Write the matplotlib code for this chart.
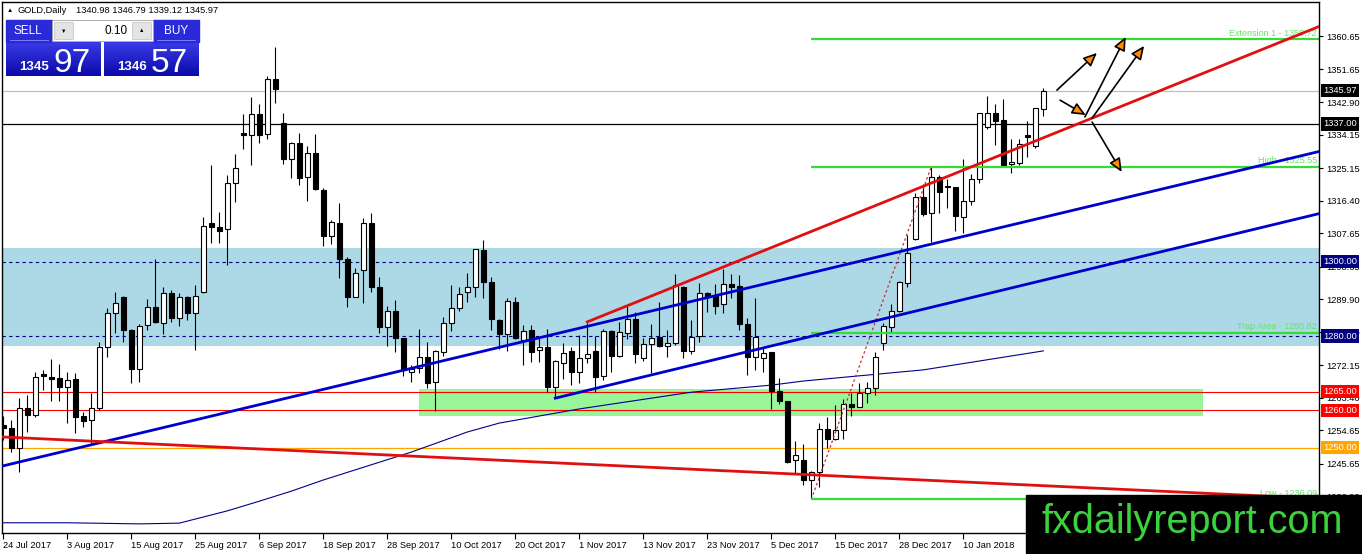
import numpy as np
import matplotlib
matplotlib.use('Agg')
import matplotlib.pyplot as plt
from matplotlib.patches import Rectangle
from matplotlib.colors import LinearSegmentedColormap
import matplotlib.transforms as mtransforms

plt.rcParams['font.family'] = ['Liberation Sans', 'DejaVu Sans']

# ---------------- data ----------------
opens = [1256.0, 1255.2, 1249.8, 1260.6, 1258.8, 1269.7, 1269.1, 1268.6, 1266.4, 1268.4,
         1258.5, 1257.4, 1260.6, 1277.1, 1286.1, 1290.4, 1281.6, 1271.1, 1282.9, 1287.7,
         1283.4, 1291.5, 1284.8, 1290.6, 1286.1, 1291.9, 1310.5, 1309.2, 1308.7, 1321.2,
         1334.5, 1334.0, 1339.7, 1334.3, 1349.0, 1337.2, 1327.5, 1331.8, 1322.7, 1329.1,
         1319.3, 1306.9, 1310.5, 1300.6, 1290.6, 1297.7, 1310.3, 1293.3, 1282.3, 1286.6,
         1279.4, 1270.4, 1271.3, 1274.3, 1267.7, 1275.8, 1283.4, 1287.4, 1291.7, 1293.1,
         1303.1, 1294.6, 1284.3, 1280.5, 1289.2, 1278.9, 1281.6, 1276.2, 1277.0, 1266.4,
         1272.7, 1276.0, 1270.4, 1274.0, 1276.0, 1269.2, 1281.3, 1274.6, 1280.9, 1284.5,
         1274.0, 1277.9, 1279.8, 1277.4, 1278.0, 1293.3, 1276.1, 1280.0, 1291.6, 1290.8,
         1288.6, 1294.0, 1293.4, 1283.2, 1274.3, 1274.0, 1275.6, 1265.1, 1262.5, 1246.7,
         1246.7, 1241.3, 1243.5, 1254.9, 1252.2, 1254.7, 1261.7, 1261.0, 1264.8, 1265.9,
         1278.0, 1282.5, 1286.8, 1294.3, 1306.0, 1317.3, 1313.0, 1322.7, 1320.3, 1320.0,
         1312.1, 1316.4, 1322.2, 1336.1, 1339.9, 1338.2, 1326.2, 1326.6, 1334.0, 1331.1,
         1340.98]
highs = [1258.5, 1257.4, 1263.3, 1264.1, 1270.4, 1270.9, 1273.7, 1272.5, 1270.4, 1270.0,
         1259.7, 1264.6, 1278.5, 1287.4, 1291.9, 1290.8, 1281.8, 1283.2, 1289.9, 1300.6,
         1293.3, 1292.4, 1291.5, 1290.8, 1293.7, 1312.1, 1326.0, 1313.4, 1323.3, 1328.9,
         1339.7, 1344.3, 1342.5, 1349.9, 1357.8, 1339.9, 1332.1, 1334.7, 1331.1, 1334.3,
         1319.7, 1311.2, 1315.7, 1301.3, 1298.2, 1311.6, 1313.2, 1295.8, 1288.1, 1289.7,
         1279.6, 1272.2, 1281.8, 1278.5, 1276.2, 1285.2, 1293.7, 1293.3, 1297.0, 1303.4,
         1305.8, 1295.8, 1284.5, 1290.1, 1290.6, 1282.9, 1282.9, 1279.4, 1282.0, 1273.5,
         1278.2, 1277.1, 1280.3, 1283.6, 1280.0, 1282.0, 1281.6, 1283.9, 1288.1, 1286.5,
         1279.4, 1283.2, 1289.2, 1281.6, 1296.7, 1293.4, 1284.3, 1294.2, 1291.9, 1294.0,
         1297.9, 1296.7, 1296.4, 1284.8, 1290.1, 1276.7, 1275.8, 1268.6, 1262.6, 1251.9,
         1251.0, 1243.6, 1256.7, 1258.3, 1261.5, 1263.2, 1264.8, 1267.5, 1267.7, 1275.8,
         1283.4, 1288.6, 1294.7, 1307.2, 1318.5, 1321.0, 1325.55, 1323.3, 1322.1, 1320.1,
         1327.5, 1323.6, 1340.0, 1344.5, 1342.3, 1343.6, 1332.9, 1332.9, 1337.9, 1341.3,
         1346.79]
lows = [1252.0, 1248.9, 1243.5, 1254.3, 1258.3, 1265.5, 1262.4, 1262.4, 1256.5, 1253.8,
        1255.5, 1251.2, 1260.1, 1274.4, 1280.7, 1278.5, 1267.3, 1267.7, 1281.6, 1283.4,
        1280.5, 1283.9, 1282.7, 1284.3, 1276.2, 1291.5, 1304.9, 1304.9, 1299.1, 1316.1,
        1330.4, 1326.0, 1332.0, 1332.9, 1342.7, 1326.2, 1322.4, 1320.6, 1316.4, 1319.3,
        1304.2, 1304.7, 1295.5, 1287.9, 1290.4, 1289.0, 1291.7, 1280.9, 1277.3, 1275.8,
        1269.3, 1267.7, 1270.0, 1265.9, 1259.9, 1274.6, 1281.4, 1286.6, 1289.2, 1290.6,
        1290.1, 1281.6, 1276.4, 1276.0, 1279.1, 1272.2, 1273.1, 1273.1, 1265.0, 1263.7,
        1268.4, 1266.8, 1267.4, 1272.8, 1265.0, 1268.1, 1270.4, 1274.4, 1279.1, 1272.7,
        1273.4, 1270.0, 1277.0, 1274.4, 1277.6, 1274.0, 1275.3, 1278.5, 1286.5, 1285.9,
        1286.3, 1290.1, 1281.6, 1269.5, 1271.0, 1270.4, 1260.3, 1261.7, 1245.8, 1243.3,
        1240.0, 1236.09, 1239.5, 1249.8, 1252.1, 1252.2, 1258.5, 1260.9, 1262.1, 1264.1,
        1276.2, 1281.2, 1286.5, 1293.3, 1305.8, 1312.3, 1305.4, 1313.1, 1314.3, 1308.3,
        1307.8, 1315.2, 1321.2, 1335.6, 1331.3, 1326.0, 1323.9, 1326.0, 1328.0, 1330.5,
        1339.12]
closes = [1255.2, 1249.8, 1260.6, 1258.8, 1269.1, 1269.2, 1268.4, 1266.4, 1268.2, 1258.3,
          1257.2, 1260.6, 1277.1, 1286.1, 1288.8, 1281.6, 1271.1, 1282.7, 1287.7, 1283.9,
          1291.5, 1284.8, 1290.4, 1286.1, 1290.8, 1309.6, 1309.4, 1308.3, 1321.2, 1325.1,
          1334.0, 1339.7, 1334.0, 1349.0, 1346.3, 1327.5, 1331.8, 1322.4, 1329.1, 1319.4,
          1306.9, 1310.7, 1300.6, 1290.6, 1296.9, 1310.3, 1293.3, 1282.3, 1286.8, 1279.6,
          1270.9, 1271.1, 1274.3, 1267.5, 1276.1, 1283.4, 1287.4, 1291.3, 1293.1, 1303.3,
          1294.6, 1284.5, 1280.5, 1289.5, 1279.6, 1281.4, 1275.8, 1277.0, 1266.4, 1273.4,
          1275.5, 1270.4, 1274.0, 1275.3, 1269.1, 1281.3, 1274.6, 1281.2, 1284.5, 1275.3,
          1277.9, 1279.6, 1277.3, 1278.0, 1293.7, 1276.1, 1279.8, 1291.6, 1290.6, 1288.1,
          1293.9, 1293.3, 1283.1, 1274.3, 1279.8, 1275.5, 1265.3, 1262.6, 1246.2, 1247.9,
          1241.3, 1243.5, 1254.9, 1252.2, 1254.7, 1261.7, 1261.0, 1264.8, 1265.9, 1274.4,
          1282.7, 1286.7, 1294.6, 1302.4, 1317.3, 1312.8, 1322.7, 1318.8, 1320.0, 1312.3,
          1316.4, 1322.1, 1339.9, 1339.9, 1337.9, 1326.0, 1326.7, 1331.6, 1333.6, 1341.2,
          1345.97]

date_labels = ['24 Jul 2017', '3 Aug 2017', '15 Aug 2017', '25 Aug 2017', '6 Sep 2017',
               '18 Sep 2017', '28 Sep 2017', '10 Oct 2017', '20 Oct 2017', '1 Nov 2017',
               '13 Nov 2017', '23 Nov 2017', '5 Dec 2017', '15 Dec 2017', '28 Dec 2017',
               '10 Jan 2018']
date_bar_index = [0, 8, 16, 24, 32, 40, 48, 56, 64, 72, 80, 88, 96, 104, 112, 120]

price_ticks = [1360.65, 1351.65, 1342.90, 1334.15, 1325.15, 1316.40, 1307.65, 1298.65,
               1289.90, 1281.15, 1272.15, 1263.40, 1254.65, 1245.65, 1236.90]

# moving average
ma_index = [-0.4, 8, 17, 22, 24, 28, 32, 36, 40, 51, 58, 62, 67, 72, 86, 96, 100, 115, 130]
ma_values = [1229.8, 1229.8, 1229.5, 1229.7, 1230.8, 1233.0, 1235.6, 1238.3, 1241.3, 1248.8,
             1254.2, 1256.6, 1258.5, 1260.4, 1264.9, 1266.8, 1267.9, 1270.9, 1276.0]

# horizontal levels
bid_price = 1345.97
level_black = 1337.00
level_zone_dashed = [1300.00, 1280.00]
level_red = [1265.00, 1260.00]
level_orange = 1250.00
blue_zone = (1277.4, 1303.6)
green_zone = (1258.6, 1265.7)
green_zone_span = (52, 150)

# fibonacci-style levels
fib_start = 101
fib_levels = [1359.72, 1325.55, 1280.82, 1236.09]
fib_names = ['Extension 1 - 1359.72', 'High - 1325.55', 'Trap Area - 1280.82', 'Low - 1236.09']
fib_link = ([101, 116], [1236.09, 1325.55])

# trend lines (bar index, price)
blue_line_1 = ([-0.41, 164.46], [1244.9, 1329.6])
blue_line_2 = ([69, 164.46], [1263.3, 1312.9])
red_line_up = ([73, 164.46], [1283.8, 1363.2])
red_line_down = ([-0.41, 164.46], [1252.9, 1236.3])

# arrows (start index, start price, end index, end price)
arrows = [(131.7, 1346.1, 136.7, 1356.1),
          (132.1, 1343.4, 135.3, 1339.4),
          (135.2, 1338.9, 140.3, 1360.4),
          (136.1, 1338.6, 142.6, 1358.0),
          (136.1, 1337.5, 139.8, 1324.1)]

axis_labels = [(1345.97, 'black'), (1337.00, 'black'), (1300.00, '#000080'),
               (1280.00, '#000080'), (1265.00, '#FF0000'), (1260.00, '#FF0000'),
               (1250.00, '#FFA500')]

# ---------------- figure ----------------
W, H = 1362, 554
fig = plt.figure(figsize=(W / 100, H / 100), dpi=100)
fig.patch.set_facecolor('white')

ax = fig.add_axes([2 / W, (H - 533) / H, (1319 - 2) / W, (533 - 2) / H])
ax.set_zorder(1)
ax.set_facecolor('white')
xmin, xmax = -0.1625, 164.46
ymin, ymax = 1227.05, 1369.79

# zones
ax.axhspan(blue_zone[0], blue_zone[1], color='#ADD8E6', lw=0, zorder=0.5)
ax.add_patch(Rectangle((green_zone_span[0], green_zone[0]), green_zone_span[1] - green_zone_span[0],
                       green_zone[1] - green_zone[0], color='#98F598', lw=0, zorder=0.6))

# horizontal lines
ax.axhline(bid_price, color='#C0C0C0', lw=0.9, zorder=1)
ax.axhline(level_black, color='black', lw=0.9, zorder=1)
for lv in level_zone_dashed:
    ax.axhline(lv, color='#000080', lw=0.8, dashes=(3, 3), zorder=1)
for lv in level_red:
    ax.axhline(lv, color='#FF0000', lw=0.8, zorder=1)
ax.axhline(level_orange, color='#FFA500', lw=0.9, zorder=1)

# MA
ax.plot(ma_index, ma_values, color='#00008B', lw=0.8, zorder=1.5)

# candles
idx = np.arange(len(opens))
o = np.array(opens); c = np.array(closes); hi = np.array(highs); lo = np.array(lows)
ax.vlines(idx, lo, hi, color='black', lw=0.8, zorder=2)
up = c >= o
bw = 0.62
ax.bar(idx[up], c[up] - o[up], bottom=o[up], width=bw, color='white', edgecolor='black',
       lw=0.8, zorder=2.1)
ax.bar(idx[~up], o[~up] - c[~up], bottom=c[~up], width=bw, color='black', edgecolor='black',
       lw=0.8, zorder=2.1)

# fib lines
for lv, name in zip(fib_levels, fib_names):
    ax.plot([fib_start, xmax], [lv, lv], color='#33DD33', lw=1.6, zorder=2.5, solid_capstyle='butt')
    ax.text(xmax - 0.25, lv + 0.5, name, color='#66E266', fontsize=6.5, ha='right',
            va='bottom', zorder=2.6)
ax.plot(fib_link[0], fib_link[1], color='#C03030', lw=0.9, ls=(0, (2, 2)), zorder=2.4)

# trend lines
ax.plot(*blue_line_1, color='#0000CC', lw=2.0, zorder=3)
ax.plot(*blue_line_2, color='#0000CC', lw=2.0, zorder=3)
ax.plot(*red_line_up, color='#E01010', lw=2.0, zorder=3)
ax.plot(*red_line_down, color='#E01010', lw=2.0, zorder=3)

# arrows
for (x0, y0, x1, y1) in arrows:
    ax.annotate('', xy=(x1, y1), xytext=(x0, y0),
                arrowprops=dict(arrowstyle='-|>,head_length=0.9,head_width=0.4',
                                fc='#FF8C00', ec='black', lw=1.2,
                                shrinkA=0, shrinkB=0, mutation_scale=9),
                zorder=4)

ax.set_xlim(xmin, xmax)
ax.set_ylim(ymin, ymax)

# axes styling
for s in ax.spines.values():
    s.set_color('black'); s.set_linewidth(1.0)
ax.yaxis.tick_right()
ax.set_yticks(price_ticks)
ax.set_yticklabels(['%.2f' % v for v in price_ticks])
ax.tick_params(axis='y', direction='out', length=3, width=0.8, labelsize=6.7, pad=2,
               colors='black')
ax.set_xticks(date_bar_index)
ax.set_xticklabels(date_labels)
ax.tick_params(axis='x', direction='out', length=4, width=0.8, labelsize=6.7, pad=1.5)
for lbl in ax.get_xticklabels():
    lbl.set_ha('left')

# right axis price boxes
trans = mtransforms.blended_transform_factory(ax.transAxes, ax.transData)
for val, col in axis_labels:
    ax.text((1323 - 2) / 1317, val, '%.2f' % val, transform=trans, fontsize=6.7,
            color='white', ha='left', va='center', clip_on=False, zorder=6,
            bbox=dict(boxstyle='square,pad=0.22', fc=col, ec='none'))

# ---------------- overlay (pixel coordinates) ----------------
ov = fig.add_axes([0, 0, 1, 1])
ov.set_zorder(10)
ov.patch.set_visible(False)
ov.axis('off')

ov.text(10, 10.5, '▲', fontsize=4.5, ha='center', va='center', color='black')
ov.text(18, 10.5, 'GOLD,Daily', fontsize=6.7, ha='left', va='center', color='black')
ov.text(76, 10.5, '1340.98 1346.79 1339.12 1345.97', fontsize=6.7, ha='left', va='center',
        color='black')

cmap = LinearSegmentedColormap.from_list('btn', ['#3a3ae8', '#0a0aa8'])
grad = np.linspace(0, 1, 64).reshape(-1, 1)
for (bx0, bx1) in [(6, 101), (104, 199)]:
    ov.imshow(grad, extent=[bx0, bx1, 76, 42], cmap=cmap, aspect='auto',
              interpolation='bilinear', zorder=1)
# header cells
ov.add_patch(Rectangle((6, 20), 46, 22, color='#2a2ad8', zorder=1))
ov.add_patch(Rectangle((153, 20), 46, 22, color='#2a2ad8', zorder=1))
ov.plot([10, 48], [40, 40], color='#8888ff', lw=0.6, zorder=2)
ov.plot([157, 195], [40, 40], color='#8888ff', lw=0.6, zorder=2)
ov.text(28, 31, 'SELL', fontsize=8.5, color='white', ha='center', va='center', zorder=3)
ov.text(176, 31, 'BUY', fontsize=8.5, color='white', ha='center', va='center', zorder=3)
# spinner
ov.add_patch(Rectangle((52, 20), 101, 21, fc='white', ec='#a0a0a0', lw=0.6, zorder=2))
ov.add_patch(Rectangle((54, 22), 19, 17, fc='#e4e4e4', ec='#c0c0c0', lw=0.5, zorder=3))
ov.add_patch(Rectangle((132, 22), 19, 17, fc='#e4e4e4', ec='#c0c0c0', lw=0.5, zorder=3))
ov.text(63.5, 31, '▼', fontsize=4, ha='center', va='center', color='black', zorder=4)
ov.text(141.5, 31, '▲', fontsize=4, ha='center', va='center', color='black', zorder=4)
ov.text(128, 31, '0.10', fontsize=8.5, ha='right', va='center', color='black', zorder=4)
# prices
ov.text(49, 70, '1345', fontsize=9.5, fontweight='bold', color='white', ha='right',
        va='baseline', zorder=3)
ov.text(53, 72, '97', fontsize=24, color='white', ha='left', va='baseline', zorder=3)
ov.text(147, 70, '1346', fontsize=9.5, fontweight='bold', color='white', ha='right',
        va='baseline', zorder=3)
ov.text(151, 72, '57', fontsize=24, color='white', ha='left', va='baseline', zorder=3)

# watermark
ov.add_patch(Rectangle((1026, 495), W - 1026, H - 495, color='black', zorder=5))
ov.text(1042, 533, 'fxdailyreport.com', fontsize=28.5, color='#3CD23C', ha='left',
        va='baseline', zorder=6)

ov.set_xlim(0, W)
ov.set_ylim(H, 0)

fig.savefig('out.png', dpi=100, facecolor='white')
